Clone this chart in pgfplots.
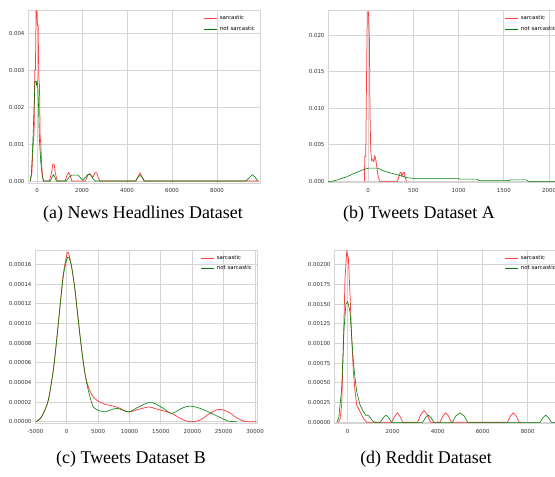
\documentclass[border=0pt]{standalone}
\usepackage{fontspec}
\setmainfont{Liberation Serif}
\newfontfamily\tickfont{DejaVu Sans}
\usepackage{pgfplots}
\pgfplotsset{compat=1.18}
\definecolor{gridgray}{RGB}{212,212,212}
\definecolor{sred}{RGB}{255,30,30}
\definecolor{sgreen}{RGB}{0,128,0}
\pgfplotsset{
 legend image code/.code={\draw[#1] (0bp,0bp) -- (13bp,0bp);},
 kde/.style={
  scale only axis, anchor=north west,
  axis line style={gridgray, line width=0.9pt},
  grid=major, grid style={gridgray, line width=0.9pt},
  major tick length=0pt,
  tick label style={font=\tickfont\fontsize{5.5}{6}\selectfont, text=black!80},
  /pgf/number format/assume math mode=true,
  scaled x ticks=false, scaled y ticks=false,
  xticklabel style={yshift=-2pt},
  legend style={draw=none, fill=none, at={(1,1)}, anchor=north east, xshift=-2bp, yshift=-2bp,
    font=\tickfont\fontsize{5.5}{6}\selectfont, row sep=1.5pt, inner sep=1pt},
  legend cell align=left,
 },
 sar/.style={sred, line width=0.75pt, opacity=0.85},
 non/.style={sgreen, line width=0.6pt},
}
\begin{document}
\begin{tikzpicture}
\path[use as bounding box] (0,0) rectangle (555bp,-477bp);
% (a) News Headlines
\begin{axis}[kde, at={(28bp,-10bp)}, width=232bp, height=173bp,
  xmin=-400, xmax=9911, ymin=-0.000054, ymax=0.004622,
  xtick={0,2000,4000,6000,8000}, xticklabels={0,2000,4000,6000,8000},
  ytick={0,0.001,0.002,0.003,0.004}, yticklabels={0.000,0.001,0.002,0.003,0.004}]
\addplot[sar] coordinates {(-300,0) (-230,0.0002) (-180,0.0009) (-130,0.0013) (-100,0.0030) (-70,0.0030) (-40,0.0046) (-10,0.0046) (20,0.0042) (50,0.0042) (80,0.0028) (110,0.0026) (140,0.0012) (170,0.0010) (210,0.0004) (250,0.0001) (300,0)
 (550,0) (640,0.0002) (700,0.00045) (760,0.00045) (820,0.0002) (900,0)
 (1250,0) (1330,0.00015) (1400,0.00023) (1470,0.00015) (1550,0)
 (2150,0) (2250,0.00015) (2350,0.0002) (2450,0.0001) (2500,0.00012) (2580,0.00022) (2650,0.00022) (2720,0.0001) (2800,0)
 (4400,0) (4500,0.00012) (4580,0.00022) (4660,0.00012) (4750,0) (9850,0)};
\addlegendentry{sarcastic}
\addplot[non] coordinates {(-300,0) (-250,0.0002) (-200,0.0008) (-170,0.0013) (-130,0.0020) (-90,0.0027) (-50,0.0027) (-20,0.0026) (10,0.0027) (40,0.0025) (70,0.0020) (100,0.0012) (130,0.0009) (170,0.0005) (220,0.0002) (280,0)
 (600,0) (680,0.00012) (730,0.00017) (780,0.00012) (860,0)
 (1300,0) (1420,0.0001) (1540,0.00016) (1840,0.00016) (1950,0.00007) (2050,0.00002) (2150,0.0001) (2280,0.00018) (2400,0.00016) (2500,0.00005) (2600,0)
 (4380,0) (4480,0.0001) (4580,0.00015) (4680,0.0001) (4780,0)
 (9300,0) (9450,0.0001) (9570,0.00017) (9700,0.0001) (9800,0)};
\addlegendentry{not sarcastic}
\end{axis}
% (b) Tweets A
\begin{axis}[kde, at={(328bp,-10bp)}, width=229bp, height=172.5bp,
  xmin=-442, xmax=2087, ymin=-0.000164, ymax=0.02346,
  xtick={0,500,1000,1500,2000}, xticklabels={0,500,1000,1500,2000},
  ytick={0,0.005,0.010,0.015,0.020}, yticklabels={0.000,0.005,0.010,0.015,0.020},
  legend style={xshift=4bp}]
\addplot[sar] coordinates {(-40,0) (-36,0.0034) (-25,0.0034) (-18,0.0123) (-8,0.0232) (5,0.0232) (15,0.0196) (22,0.0091) (30,0.0043) (40,0.0028) (55,0.0030) (65,0.0027) (75,0.0035) (85,0.0030) (100,0.0017) (115,0.0005) (129,0)
 (325,0) (345,0.0008) (355,0.0012) (365,0.0012) (375,0.0007) (390,0.0012) (400,0.0012) (410,0.0005) (425,0)};
\addlegendentry{sarcastic}
\addplot[non] coordinates {(-442,0) (-400,0) (-335,0.0002) (-240,0.0006) (-130,0.0012) (-50,0.0016) (0,0.0018) (50,0.0018) (110,0.0018) (160,0.0015) (200,0.0013) (260,0.0011) (320,0.0009) (380,0.0007) (430,0.0005) (500,0.0004) (1000,0.0004) (1010,0.0003) (1200,0.0003) (1230,0.0001) (1550,0.0001) (1580,0.0002) (1750,0.0002) (1770,0) (2087,0)};
\addlegendentry{not sarcastic}
\end{axis}
% (c) Tweets B
\begin{axis}[kde, at={(35bp,-250bp)}, width=222bp, height=173.5bp,
  xmin=-5046, xmax=30300, ymin=-0.0000018, ymax=0.0001746,
  xtick={-5000,0,5000,10000,15000,20000,25000,30000},
  xticklabels={-5000,0,5000,10000,15000,20000,25000,30000},
  ytick={0,0.00002,0.00004,0.00006,0.00008,0.0001,0.00012,0.00014,0.00016},
  yticklabels={0.00000,0.00002,0.00004,0.00006,0.00008,0.00010,0.00012,0.00014,0.00016},
  legend style={row sep=0.5pt}]
\addplot[sar, smooth] coordinates {(-4890,0) (-4250,0.000003) (-3720,0.0000085) (-2925,0.000022) (-2130,0.0000525) (-1600,0.000083) (-1070,0.000117) (-540,0.00015) (0,0.000169) (265,0.000172) (796,0.000157) (1320,0.000134) (1850,0.000103) (2390,0.000073) (2910,0.000049) (3440,0.0000355) (4240,0.000025) (5300,0.00002) (6100,0.0000177) (7960,0.000015) (9810,0.00001) (11140,0.000012) (13000,0.000015) (14060,0.0000134) (15380,0.000011) (16710,0.0000085) (18300,0.0000027) (19630,0) (21220,0.0000017) (22810,0.0000085) (24200,0.0000126) (25730,0.00001) (27060,0.000004) (28380,0.0000003) (29710,0) (30200,0)};
\addlegendentry{sarcastic}
\addplot[non, smooth] coordinates {(-4890,0) (-4250,0.000003) (-3720,0.0000085) (-2925,0.000022) (-2130,0.0000525) (-1600,0.000083) (-1070,0.000117) (-540,0.000148) (0,0.000165) (370,0.000167) (796,0.000157) (1320,0.000134) (1850,0.000103) (2390,0.000073) (2910,0.000049) (3440,0.000032) (4240,0.000015) (5300,0.000011) (6100,0.00001) (7960,0.0000136) (9810,0.00001) (11140,0.000014) (13000,0.0000195) (14060,0.0000184) (15380,0.0000136) (16710,0.0000085) (18300,0.0000136) (19630,0.000016) (21220,0.0000136) (22810,0.0000093) (24400,0.0000044) (25730,0.0000007) (27060,0)};
\addlegendentry{not sarcastic}
\end{axis}
% (d) Reddit
\begin{axis}[kde, at={(334bp,-250bp)}, width=223bp, height=173.5bp,
  xmin=-609, xmax=9301, ymin=-0.0000152, ymax=0.002187,
  xtick={0,2000,4000,6000,8000}, xticklabels={0,2000,4000,6000,8000},
  ytick={0,0.00025,0.0005,0.00075,0.001,0.00125,0.0015,0.00175,0.002},
  yticklabels={0.00000,0.00025,0.00050,0.00075,0.00100,0.00125,0.00150,0.00175,0.00200},
  legend style={xshift=4bp, row sep=0.5pt}]
\addplot[sar] coordinates {(-420,0) (-340,0.00004) (-267,0.00022) (-193,0.00098) (-119,0.00183) (-44,0.00217) (30,0.00208) (104,0.00162) (178,0.00107) (252,0.00064) (326,0.00039) (400,0.00022) (548,0.000135) (696,0.00005) (844,0)
 (1950,0) (2100,0.00008) (2204,0.00012) (2310,0.00008) (2450,0)
 (3100,0) (3250,0.0001) (3391,0.00015) (3530,0.0001) (3680,0)
 (4100,0) (4230,0.00008) (4355,0.00012) (4480,0.00008) (4600,0)
 (7100,0) (7230,0.00008) (7360,0.00012) (7490,0.00008) (7620,0) (7700,0)};
\addlegendentry{sarcastic}
\addplot[non] coordinates {(-489,0) (-400,0.00005) (-267,0.00043) (-163,0.00119) (-80,0.00150) (-10,0.00153) (30,0.00150) (104,0.0014) (178,0.00107) (252,0.00077) (326,0.00056) (400,0.00039) (548,0.00022) (696,0.000135) (800,0.00009) (900,0.00009) (1000,0.00006) (1100,0.00002) (1213,0)
 (1450,0) (1580,0.00006) (1702,0.00009) (1820,0.00006) (1950,0)
 (3330,0) (3460,0.00006) (3582,0.00009) (3700,0.00006) (3830,0)
 (4650,0) (4800,0.00008) (4990,0.00012) (5180,0.00008) (5330,0)
 (8550,0) (8680,0.00006) (8800,0.00009) (8920,0.00006) (9050,0) (9301,0)};
\addlegendentry{not sarcastic}
\end{axis}
\node[font=\fontsize{18}{20}\selectfont] at (143bp,-214bp) {(a) News Headlines Dataset};
\node[font=\fontsize{18}{20}\selectfont] at (419bp,-214bp) {(b) Tweets Dataset A};
\node[font=\fontsize{18}{20}\selectfont] at (131bp,-459bp) {(c) Tweets Dataset B};
\node[font=\fontsize{18}{20}\selectfont] at (426bp,-459bp) {(d) Reddit Dataset};
\end{tikzpicture}
\end{document}
